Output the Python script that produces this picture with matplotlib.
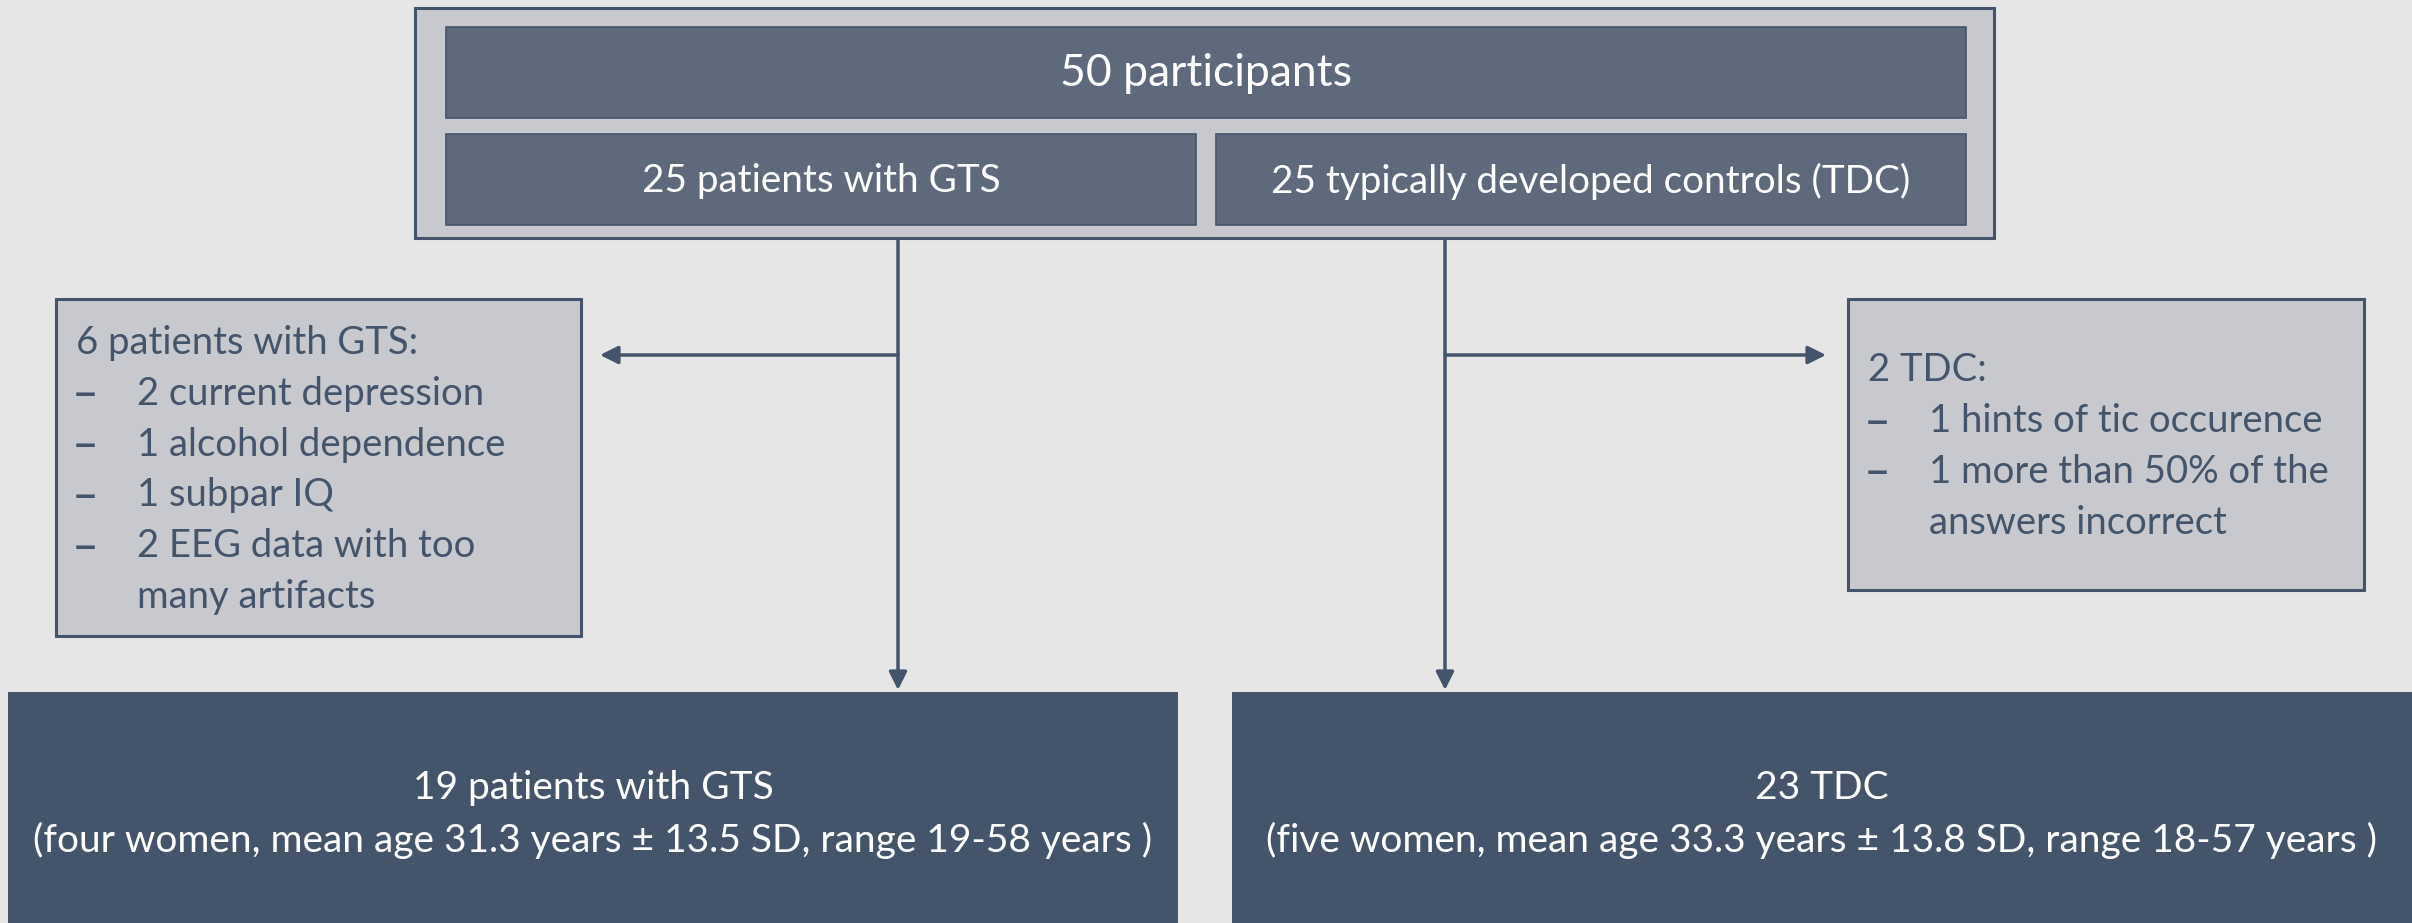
import matplotlib.pyplot as plt
from matplotlib.patches import Rectangle, FancyArrowPatch

# text content of the flow chart
total_label = "50 participants"
group_labels = ["25 patients with GTS", "25 typically developed controls (TDC)"]
excl_headers = ["6 patients with GTS:", "2 TDC:"]
excl_items = [
    ["2 current depression", "1 alcohol dependence", "1 subpar IQ",
     "2 EEG data with too", None, "many artifacts"],
    ["1 hints of tic occurence", "1 more than 50% of the", None, "answers incorrect"],
]
final_titles = ["19 patients with GTS", "23 TDC"]
final_details = [
    "(four women, mean age 31.3 years \u00b1 13.5 SD, range 19-58 years )",
    "(five women, mean age 33.3 years \u00b1 13.8 SD, range 18-57 years )",
]

BG = "#E6E6E6"
DARK = "#44546A"
MID = "#5E6A7C"
LIGHT = "#C8C9CE"
FONT = "Lato"

fig = plt.figure(figsize=(24.12, 9.23), dpi=100)
fig.patch.set_facecolor(BG)
ax = fig.add_axes([0, 0, 1, 1])
ax.set_xlim(0, 2412)
ax.set_ylim(923, 0)
ax.axis("off")


def box(x0, y0, x1, y1, fc, ec=None, lw=0):
    ax.add_patch(Rectangle((x0, y0), x1 - x0, y1 - y0, facecolor=fc,
                           edgecolor=ec if ec else fc, linewidth=lw))


# top block
box(415, 8, 1994, 238, LIGHT, DARK, 2.2)
box(446, 27, 1966, 118, MID, DARK, 1.2)
box(446, 134, 1196, 225, MID, DARK, 1.2)
box(1216, 134, 1966, 225, MID, DARK, 1.2)
ax.text(1206, 74, total_label, color="white", fontsize=32, family=FONT,
        ha="center", va="center")
ax.text(821, 181, group_labels[0], color="white", fontsize=27.8, family=FONT,
        ha="center", va="center")
ax.text(1591, 181, group_labels[1], color="white", fontsize=27.8, family=FONT,
        ha="center", va="center")

# connectors
arrow_kw = dict(arrowstyle="-|>,head_length=0.9,head_width=0.45", color=DARK,
                linewidth=2.5, mutation_scale=12, shrinkA=0, shrinkB=0)
for xc in (898, 1445):
    ax.add_patch(FancyArrowPatch((xc, 240), (xc, 690), **arrow_kw))
ax.add_patch(FancyArrowPatch((898, 355), (600, 355), **arrow_kw))
ax.add_patch(FancyArrowPatch((1445, 355), (1826, 355), **arrow_kw))

# exclusion boxes
excl_boxes = [(56, 299, 581, 636), (1848, 299, 2364, 590)]
excl_start = [343, 370]
excl_step = [50.8, 51]
for k, (x0, y0, x1, y1) in enumerate(excl_boxes):
    box(x0, y0, x1, y1, LIGHT, DARK, 2.2)
    tx = x0 + 20
    y = excl_start[k]
    ax.text(tx, y, excl_headers[k], color=DARK, fontsize=27.5, family=FONT,
            ha="left", va="center")
    cont = False
    for item in excl_items[k]:
        if item is None:
            cont = True
            continue
        y += excl_step[k]
        if not cont:
            ax.text(tx - 2, y + 1, "\u2013", color=DARK, fontsize=33,
                    family="DejaVu Sans", ha="left", va="center")
        ax.text(tx + 61, y, item, color=DARK, fontsize=27.5, family=FONT,
                ha="left", va="center")
        cont = False

# final boxes
final_boxes = [(8, 692, 1178, 930), (1232, 692, 2420, 930)]
final_centers = [593, 1822]
for k, (x0, y0, x1, y1) in enumerate(final_boxes):
    box(x0, y0, x1, y1, DARK)
    xc = final_centers[k]
    ax.text(xc, 788, final_titles[k], color="white", fontsize=28, family=FONT,
            ha="center", va="center")
    ax.text(xc, 840, final_details[k], color="white", fontsize=28, family=FONT,
            ha="center", va="center")

fig.savefig("out.png", dpi=100, facecolor=BG)
